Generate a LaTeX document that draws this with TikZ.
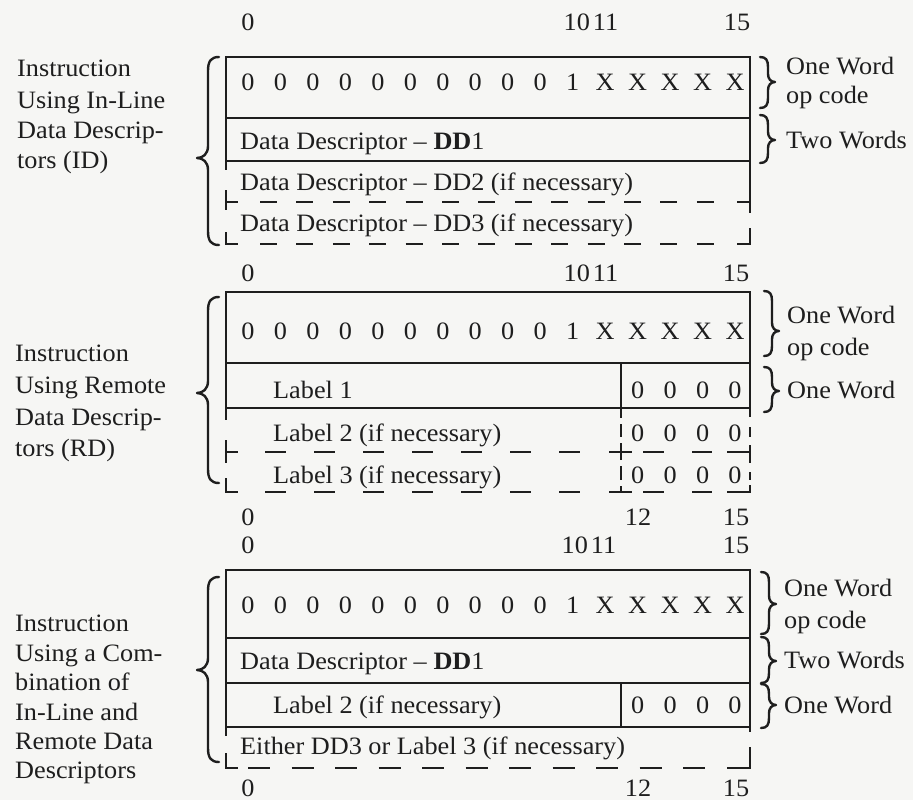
\documentclass[tikz,border=0pt]{standalone}
\usepackage{fontspec}
\setmainfont{Liberation Serif}[FakeStretch=1.05]
\definecolor{ink}{RGB}{30,30,30}
\definecolor{paper}{RGB}{246,246,244}
\newcommand\fs{\fontsize{25}{30}\selectfont}
\tikzset{
  box/.style={line width=1.5pt, draw=ink},
  brc/.style={line width=2.4pt, draw=ink, line cap=round, line join=round},
  lbl/.style={inner sep=0pt, text height=16.5pt, text depth=0pt, font=\fs, text=ink},
  lw/.style={lbl, anchor=west},
  d1/.style={box, dash pattern=on 17pt off 19.4pt},
  d2/.style={box, dash pattern=on 21pt off 28pt},
  d3/.style={box, dash pattern=on 22pt off 21.5pt}
}
% left brace: ytop, ytip, ybot
\newcommand\leftbr[3]{%
  \draw[brc] (219,#1) .. controls (211,#1) and (208,{#1+4}) .. (208,{#1+14})
    -- (208,{#2-12}) .. controls (208,{#2-4}) and (203,#2) .. (197,#2)
    .. controls (203,#2) and (208,{#2+4}) .. (208,{#2+12})
    -- (208,{#3-14}) .. controls (208,{#3-4}) and (211,#3) .. (219,#3);}
% right brace: x, ytop, ytip, ybot
\newcommand\rightbr[4]{%
  \draw[brc] (#1,#2) .. controls ({#1+6},#2) and ({#1+8},{#2+3}) .. ({#1+8},{#2+10})
    -- ({#1+8},{#3-8}) .. controls ({#1+8},{#3-3}) and ({#1+11},#3) .. ({#1+15},#3)
    .. controls ({#1+11},#3) and ({#1+8},{#3+3}) .. ({#1+8},{#3+8})
    -- ({#1+8},{#4-10}) .. controls ({#1+8},{#4-3}) and ({#1+6},#4) .. (#1,#4);}
\begin{document}
\begin{tikzpicture}[x=1pt,y=-1pt]
\fill[paper] (0,0) rectangle (913,800);
\useasboundingbox (0,0) rectangle (913,800);

%================ Section 1 =================
\node[lbl] (h1a) at (248,22) {0};
\node[lbl] (h1b) at (591,22) {10\kern3pt 11};
\node[lbl] (h1c) at (737,22) {15};

\node[lw] (t1a) at (17,68) {Instruction};
\node[lw] (t1b) at (17,100) {Using In-Line};
\node[lw] (t1c) at (17,130) {Data Descrip-};
\node[lw] (t1d) at (17,160) {tors (ID)};
\leftbr{57}{158}{245}

\draw[box] (226,57) rectangle (750,161);
\draw[box] (226,118) -- (750,118);
\foreach \i in {0,...,9} \node[lbl] (a\i) at ({248+32.47*\i},82) {0};
\node[lbl] (a10) at ({248+32.47*10},82) {1};
\foreach \i in {11,...,15} \node[lbl] (a\i) at ({248+32.47*\i},82) {X};
\node[lw] (dd1a) at (240,141) {Data Descriptor -- \textbf{DD}1};
\node[lw] (dd2a) at (240,182) {Data Descriptor -- DD2 (if necessary)};
\node[lw] (dd3a) at (240,223) {Data Descriptor -- DD3 (if necessary)};
% dashed part
\draw[box] (226,161) -- (226,170) (226,190) -- (226,210) (226,232) -- (226,244) -- (238,244);
\draw[box] (750,161) -- (750,213) (750,228) -- (750,244) -- (737,244);
\draw[box] (226,202) -- (238,202) (737,202) -- (750,202);
\draw[d1] (260,202) -- (716,202);
\draw[d1] (260,244) -- (716,244);

\rightbr{760}{57}{82}{108}
\rightbr{760}{115}{140}{163}
\node[lw] (r1a) at (786,66) {One Word};
\node[lw] (r1b) at (786,95) {op code};
\node[lw] (r1c) at (786,140) {Two Words};

%================ Section 2 =================
\node[lbl] (h2a) at (248,273) {0};
\node[lbl] (h2b) at (591,273) {10\kern3pt 11};
\node[lbl] (h2c) at (736,273) {15};

\node[lw] (t2a) at (15,353) {Instruction};
\node[lw] (t2b) at (15,385) {Using Remote};
\node[lw] (t2c) at (15,417) {Data Descrip-};
\node[lw] (t2d) at (15,448) {tors (RD)};
\leftbr{297}{393}{483}

\draw[box] (226,292) rectangle (750,408);
\draw[box] (226,363) -- (750,363);
\draw[box] (621,363) -- (621,408);
\foreach \i in {0,...,9} \node[lbl] (b\i) at ({248+32.47*\i},331) {0};
\node[lbl] (b10) at ({248+32.47*10},331) {1};
\foreach \i in {11,...,15} \node[lbl] (b\i) at ({248+32.47*\i},331) {X};
\node[lw] (l1) at (273,390) {Label 1};
\node[lw] (l2) at (273,433) {Label 2 (if necessary)};
\node[lw] (l3) at (273,475) {Label 3 (if necessary)};
\foreach \r/\y in {1/390,2/433,3/475}
  \foreach \i in {12,...,15} \node[lbl] (z\r-\i) at ({248+32.47*\i},\y) {0};
% dashed part
\draw[box] (226,408) -- (226,420) (226,440) -- (226,463) (226,478) -- (226,492) -- (238,492);
\draw[box] (226,452) -- (238,452);
\draw[box] (621,408) -- (621,418) (621,424) -- (621,437) (621,443) -- (621,460)
           (621,466) -- (621,480) (621,486) -- (621,492);
\draw[box] (609,452) -- (632,452) (609,492) -- (632,492);
\draw[box] (750,408) -- (750,417) (750,427) -- (750,437) (750,445) -- (750,463)
           (750,472) -- (750,480) (750,485) -- (750,492) -- (727,492);
\draw[box] (727,452) -- (750,452);
\draw[d2] (265,452) -- (600,452);
\draw[d2] (265,492) -- (600,492);
\draw[d2] (643,452) -- (712,452);
\draw[d2] (643,492) -- (712,492);

\node[lbl] (f2a) at (248,517) {0};
\node[lbl] (f2b) at (638,517) {12};
\node[lbl] (f2c) at (736,517) {15};

\rightbr{764}{291}{331}{356}
\rightbr{764}{367}{391}{412}
\node[lw] (r2a) at (787,315) {One Word};
\node[lw] (r2b) at (787,347) {op code};
\node[lw] (r2c) at (787,390) {One Word};

%================ Section 3 =================
\node[lbl] (h3a) at (248,545) {0};
\node[lbl] (h3b) at (589,545) {10\kern3pt 11};
\node[lbl] (h3c) at (736,545) {15};

\node[lw] (t3a) at (15,623) {Instruction};
\node[lw] (t3b) at (15,653) {Using a Com-};
\node[lw] (t3c) at (15,682) {bination of};
\node[lw] (t3d) at (15,712) {In-Line and};
\node[lw] (t3e) at (15,741) {Remote Data};
\node[lw] (t3f) at (15,770) {Descriptors};
\leftbr{577}{670}{762}

\draw[box] (226,570) rectangle (750,727);
\draw[box] (226,638) -- (750,638);
\draw[box] (226,683) -- (750,683);
\draw[box] (621,683) -- (621,727);
\foreach \i in {0,...,9} \node[lbl] (c\i) at ({248+32.47*\i},605) {0};
\node[lbl] (c10) at ({248+32.47*10},605) {1};
\foreach \i in {11,...,15} \node[lbl] (c\i) at ({248+32.47*\i},605) {X};
\node[lw] (dd1c) at (240,661) {Data Descriptor -- \textbf{DD}1};
\node[lw] (l2c) at (273,705) {Label 2 (if necessary)};
\foreach \i in {12,...,15} \node[lbl] (zc\i) at ({248+32.47*\i},705) {0};
\node[lw] (eith) at (240,746) {Either DD3 or Label 3 (if necessary)};
% dashed part
\draw[box] (226,727) -- (226,736) (226,753) -- (226,768) -- (238,768);
\draw[box] (750,727) -- (750,732) (750,747) -- (750,768) -- (727,768);
\draw[d3] (248,768) -- (706,768);

\node[lbl] (f3a) at (248,788) {0};
\node[lbl] (f3b) at (638,788) {12};
\node[lbl] (f3c) at (736,788) {15};

\rightbr{761}{572}{604}{634}
\rightbr{761}{637}{661}{683}
\rightbr{761}{684}{705}{728}
\node[lw] (r3a) at (784,588) {One Word};
\node[lw] (r3b) at (784,620) {op code};
\node[lw] (r3c) at (784,660) {Two Words};
\node[lw] (r3d) at (784,705) {One Word};
\end{tikzpicture}
\end{document}
